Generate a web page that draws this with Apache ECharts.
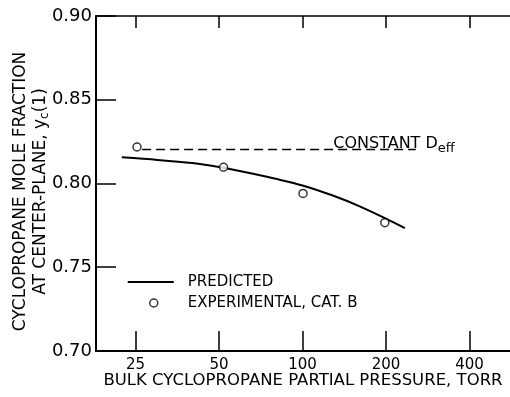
<!DOCTYPE html>
<html><head><meta charset="utf-8">
<script src="https://cdn.jsdelivr.net/npm/echarts@6/dist/echarts.min.js"></script>
<style>html,body{margin:0;padding:0;background:#fff}#c{width:510px;height:397px}</style>
</head><body><div id="c"></div>
<script>
// ---- data ----
const xTickPressures = [25, 50, 100, 200, 400];          // torr, log axis
const xRangePressure = [18, 560];                        // visible axis range, torr
const yRange = [0.70, 0.90];
const yStep = 0.05;

const predictedPressure = [22.3, 30, 40, 50, 65, 80, 100, 130, 160, 200, 234];
const predictedFraction = [0.8156, 0.8141, 0.8122, 0.8098, 0.8061, 0.8028, 0.7988, 0.7925, 0.7865, 0.7790, 0.7733];

const experimentalPressure = [25.3, 51.9, 100.4, 198];
const experimentalFraction = [0.8218, 0.8097, 0.7941, 0.7766];

const constantPressure = [26.4, 256];
const constantFraction = [0.8203, 0.8203];

// ---- chart ----
const FONT = 'DejaVu Sans';
const toAxis = p => Math.log2(p / xTickPressures[0]);
const fromAxis = v => Math.round(xTickPressures[0] * Math.pow(2, v));
const pairs = (xs, ys) => xs.map((x, i) => [toAxis(x), ys[i]]);
const tickVals = xTickPressures.map(toAxis);

const chart = echarts.init(document.getElementById('c'), null, {renderer: 'canvas'});

const xBase = {
  type: 'value',
  min: toAxis(xRangePressure[0]),
  max: toAxis(xRangePressure[1]),
  splitLine: {show: false},
  axisLine: {show: true, onZero: false, lineStyle: {color: '#000', width: 2}},
};

chart.setOption({
  animation: false,
  backgroundColor: '#fff',
  grid: {left: 96, right: 0, top: 16, bottom: 46, containLabel: false, outerBoundsMode: 'none'},
  xAxis: [
    Object.assign({}, xBase, {
      position: 'bottom',
      axisTick: {show: true, inside: true, length: 20, customValues: tickVals, lineStyle: {color: '#000', width: 1.5}},
      axisLabel: {show: true, customValues: tickVals, formatter: v => String(fromAxis(v)),
        color: '#000', fontFamily: FONT, fontSize: 15, margin: 7},
      name: 'BULK CYCLOPROPANE PARTIAL PRESSURE, TORR',
      nameLocation: 'middle', nameGap: 21, nameMoveOverlap: false,
      nameTextStyle: {color: '#000', fontFamily: FONT, fontSize: 16.5}
    }),
    Object.assign({}, xBase, {
      position: 'top',
      axisLine: {show: true, onZero: false, lineStyle: {color: '#000', width: 1.5}},
      axisTick: {show: true, inside: true, length: 12, customValues: tickVals, lineStyle: {color: '#000', width: 1.5}},
      axisLabel: {show: false}
    })
  ],
  yAxis: {
    type: 'value', min: yRange[0], max: yRange[1], interval: yStep,
    splitLine: {show: false},
    axisLine: {show: true, onZero: false, lineStyle: {color: '#000', width: 2}},
    axisTick: {show: true, inside: true, length: 20, lineStyle: {color: '#000', width: 1.5}},
    axisLabel: {formatter: v => v.toFixed(2), color: '#000', fontFamily: FONT, fontSize: 18, margin: 4},
    name: 'CYCLOPROPANE MOLE FRACTION\nAT CENTER-PLANE, y{sub|c}(1)',
    nameLocation: 'middle', nameRotate: 90, nameGap: 45, nameMoveOverlap: false,
    nameTextStyle: {color: '#000', fontFamily: FONT, fontSize: 17, lineHeight: 20, align: 'center',
      padding: [0, 16, 0, 0],
      rich: {sub: {fontFamily: FONT, fontSize: 12, lineHeight: 12, padding: [8, 0, 0, 0], color: '#000'}}}
  },
  legend: {
    left: 127, top: 274, padding: 0, orient: 'vertical', itemWidth: 55, itemHeight: 10, itemGap: 5,
    selectedMode: false,
    textStyle: {color: '#000', fontFamily: FONT, fontSize: 15, lineHeight: 16},
    data: [
      {name: 'PREDICTED', icon: 'path://M0,0M55,10M0,4H46V6H0Z'},
      {name: 'EXPERIMENTAL, CAT. B', icon: 'path://M0,0M55,10M22,5A4,4,0,1,0,30,5A4,4,0,1,0,22,5Z',
        itemStyle: {color: '#fff', borderColor: '#000', borderWidth: 1.5}}
    ]
  },
  series: [
    {
      name: 'CONSTANT', type: 'line', data: pairs(constantPressure, constantFraction),
      showSymbol: false, symbol: 'none', silent: true,
      lineStyle: {color: '#000', width: 1.5, type: [9, 5]},
      itemStyle: {color: '#000'},
      endLabel: {
        show: true, formatter: 'CONSTANT {d|D}{s|eff}', align: 'right', verticalAlign: 'middle',
        distance: 39, padding: [0, 0, 12, 0], color: '#000', fontFamily: FONT, fontSize: 16, lineHeight: 13,
        rich: {
          d: {fontFamily: FONT, fontSize: 16, lineHeight: 13, color: '#000'},
          s: {fontFamily: FONT, fontSize: 13, lineHeight: 12, padding: [10, 0, 0, 0], color: '#000'}
        }
      }
    },
    {
      name: 'PREDICTED', type: 'line', data: pairs(predictedPressure, predictedFraction),
      smooth: 0.3, showSymbol: false, symbol: 'none',
      lineStyle: {color: '#000', width: 2}, itemStyle: {color: '#000'}
    },
    {
      name: 'EXPERIMENTAL, CAT. B', type: 'scatter', data: pairs(experimentalPressure, experimentalFraction),
      symbol: 'circle', symbolSize: 8, z: 5,
      itemStyle: {color: '#fff', borderColor: '#000', borderWidth: 1.5}
    }
  ]
});
</script></body></html>
